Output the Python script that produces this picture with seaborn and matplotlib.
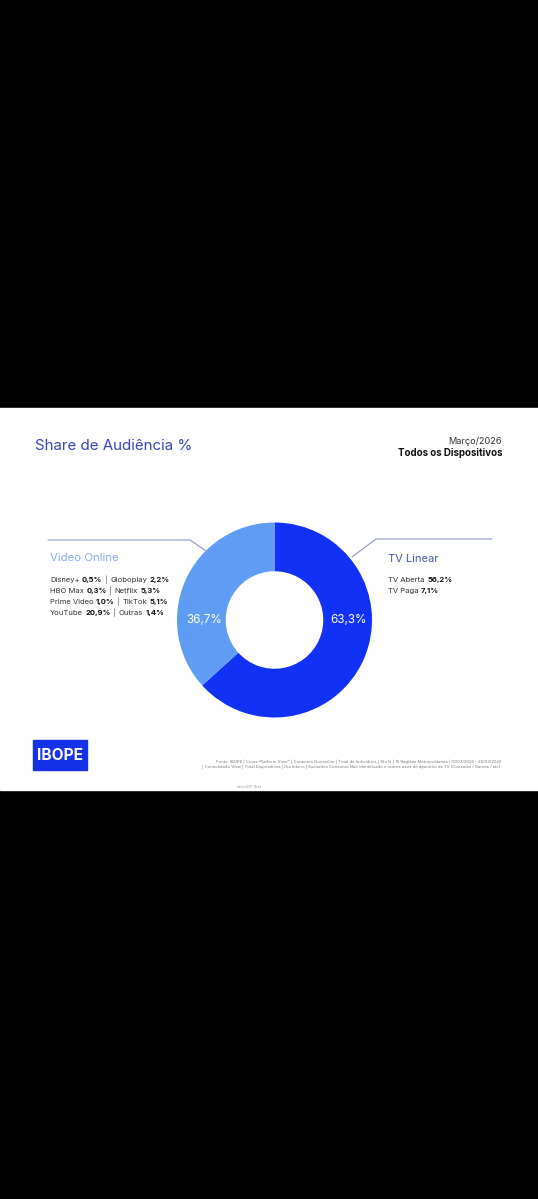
import matplotlib
matplotlib.use("Agg")
import matplotlib.pyplot as plt
import seaborn as sns
from matplotlib.offsetbox import TextArea, HPacker, AnnotationBbox

sns.set_theme(style="white")
plt.rcParams["font.family"] = ["Inter", "DejaVu Sans"]

# data
categories = ["TV Linear", "Video Online"]
shares = [63.3, 36.7]
tv_items = ["TV Aberta", "TV Paga"]
tv_values = [56.2, 7.1]
online_items = ["Disney+", "Globoplay", "HBO Max", "Netflix",
                "Prime Video", "TikTok", "YouTube", "Outras"]
online_values = [0.5, 2.2, 0.3, 5.3, 1.0, 5.1, 20.9, 1.4]

dark_blue = "#1131f5"
light_blue = "#5f9cf3"
line_col = "#8c95c9"


def fmt(v):
    return f"{v:.1f}%".replace(".", ",")


def rich_row(ax, x, y, parts, size=5.5, sep=1.8):
    boxes = []
    for txt, bold in parts:
        col = "#111111" if bold else "#333333"
        if txt == "|":
            col = "#666666"
        boxes.append(TextArea(txt, textprops=dict(
            fontsize=size, color=col,
            fontweight="bold" if bold else "normal")))
    pack = HPacker(children=boxes, sep=sep, pad=0, align="baseline")
    ab = AnnotationBbox(pack, (x, y), xycoords="data", box_alignment=(0, 0.5),
                        frameon=False, pad=0)
    ax.add_artist(ab)


fig = plt.figure(figsize=(5.38, 11.99), dpi=100)
fig.patch.set_facecolor("black")

bg = fig.add_axes([0, 0, 1, 1])
bg.set_xlim(0, 538)
bg.set_ylim(1199, 0)
bg.axis("off")
bg.add_patch(plt.Rectangle((0, 408), 538, 382, color="white", zorder=0))

# header
bg.text(35, 446.5, "Share de Audiência %", fontsize=10.9, color="#3845bd",
        va="center", ha="left")
bg.text(502, 442, "Março/2026", fontsize=6.6, color="#333333", va="center", ha="right")
bg.text(502, 453, "Todos os Dispositivos", fontsize=7.0, color="#111111",
        fontweight="bold", va="center", ha="right")

# leader lines
bg.plot([48, 190, 206], [540, 540, 551], color=line_col, lw=0.8)
bg.plot([352, 376, 492], [557, 539, 539], color=line_col, lw=0.8)

# left block
bg.text(50, 558, categories[1], fontsize=8.2, color="#86aee8", va="center", ha="left")
for i, y in enumerate([580, 591, 602, 613]):
    a, b = 2 * i, 2 * i + 1
    rich_row(bg, 50, y, [(online_items[a], False), (fmt(online_values[a]), True),
                         ("|", False),
                         (online_items[b], False), (fmt(online_values[b]), True)])

# right block
bg.text(388, 559, categories[0], fontsize=8.0, color="#4456b0", va="center", ha="left")
for i, y in enumerate([580, 591]):
    rich_row(bg, 388, y, [(tv_items[i], False), (fmt(tv_values[i]), True)],
             sep=2.6 if i == 0 else 1.8)

# donut
cx, cy, r = 274.5, 620, 97.5
pax = fig.add_axes([(cx - r) / 538, 1 - (cy + r) / 1199, 2 * r / 538, 2 * r / 1199])
pax.pie(shares, colors=[dark_blue, light_blue], startangle=90, counterclock=False,
        radius=1, wedgeprops=dict(width=0.5, edgecolor="none"))
pax.set_xlim(-1, 1)
pax.set_ylim(-1, 1)
pax.set_aspect("equal")
pax.text(0.76, 0, fmt(shares[0]), fontsize=8.4, color="white", ha="center", va="center")
pax.text(-0.72, 0, fmt(shares[1]), fontsize=8.4, color="white", ha="center", va="center")

# logo
bg.add_patch(plt.Rectangle((33, 740), 54, 30, color="#1432e6", zorder=1))
bg.text(60, 755.5, "IBOPE", fontsize=11.2, color="white", fontweight="bold",
        ha="center", va="center", zorder=2)

# footer
bg.text(502, 762, "Fonte: IBOPE | Cross-Platform View™ | Consumo Domiciliar | Total de Indivíduos | "
        "Shr% | 15 Regiões Metropolitanas | 01/03/2026 - 29/03/2026",
        fontsize=3.0, color="#777777", ha="right", va="center")
bg.text(502, 767, "| Consolidado View | Total Dispositivos | Dia Inteiro | Excluídos Consumo Não "
        "identificado e outros usos do aparelho de TV (Consoles / Games / etc).",
        fontsize=3.0, color="#777777", ha="right", va="center")
bg.text(249, 787, "Kantar IBOPE Media", fontsize=1.8, color="#999999",
        ha="center", va="center")

fig.savefig("out.png", dpi=100, facecolor=fig.get_facecolor())
